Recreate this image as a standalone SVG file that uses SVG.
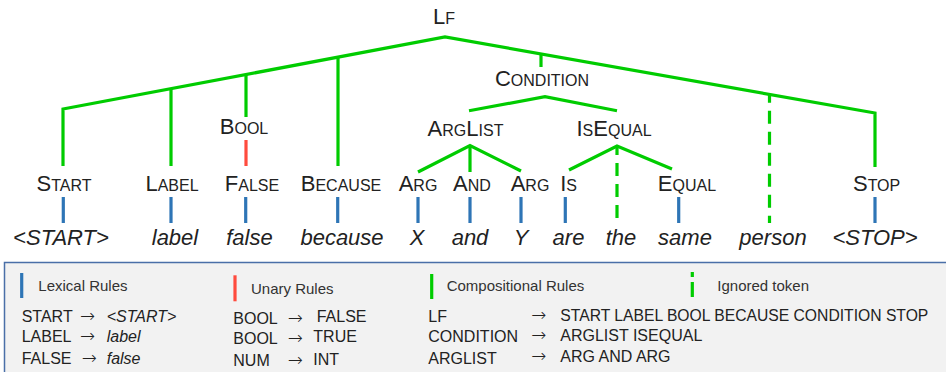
<svg xmlns="http://www.w3.org/2000/svg" width="946" height="372" viewBox="0 0 946 372">
<style>
text{font-family:"Liberation Sans",Arial,sans-serif;fill:#222}
.nt{text-anchor:middle}
.b{font-size:22px}
.s{font-size:16px}
.w{font-size:22px;font-style:italic;text-anchor:middle}
.g{fill:none;stroke:#00cc00;stroke-width:3.2;stroke-linejoin:miter}
.gd{fill:none;stroke:#00cc00;stroke-width:3.2;stroke-dasharray:13 8}
.bl{stroke:#2e75b6;stroke-width:3.2}
.rd{stroke:#ff4b3e;stroke-width:3.2}
.lg{font-size:15px;fill:#333}
.r{font-size:16px;fill:#222}
.ri{font-size:16px;font-style:italic;fill:#222}
.ar{font-family:"DejaVu Sans",sans-serif;font-weight:200;font-size:18px;fill:#222}
</style>
<rect width="946" height="372" fill="#ffffff"/>
<g id="connectors">
<polyline class="g" points="63,166 63,109 445,37 875,113 875,167"/>
<line class="g" x1="171" y1="88.6" x2="171" y2="166"/>
<line class="g" x1="246" y1="74.6" x2="246" y2="117"/>
<line class="rd" x1="246" y1="140" x2="246" y2="166"/>
<line class="g" x1="338" y1="57.3" x2="338" y2="166"/>
<line class="g" x1="541" y1="54" x2="541" y2="67"/>
<line class="gd" x1="769.5" y1="95" x2="769.5" y2="223" stroke-dashoffset="5.3"/>
<polyline class="g" points="469,110.7 545,96.7 617,110.7"/>
<polyline class="g" points="418,172 470,145.5 521,171"/>
<line class="g" x1="470" y1="145.5" x2="470" y2="172"/>
<polyline class="g" points="569,170 617,146 672,169"/>
<line class="gd" x1="617" y1="146" x2="617" y2="223" stroke-dashoffset="4"/>
<line class="bl" x1="63.3" y1="197" x2="63.3" y2="223"/>
<line class="bl" x1="171" y1="197" x2="171" y2="223"/>
<line class="bl" x1="245.7" y1="197" x2="245.7" y2="223"/>
<line class="bl" x1="337.7" y1="197" x2="337.7" y2="223"/>
<line class="bl" x1="418" y1="197" x2="418" y2="223"/>
<line class="bl" x1="470" y1="197" x2="470" y2="223"/>
<line class="bl" x1="521" y1="197" x2="521" y2="223"/>
<line class="bl" x1="565.3" y1="197" x2="565.3" y2="223"/>
<line class="bl" x1="678.7" y1="197" x2="678.7" y2="223"/>
<line class="bl" x1="875" y1="197" x2="875" y2="223"/>
</g>
<g id="n-lf"><text class="nt" x="444" y="24"><tspan class="b">L</tspan><tspan class="s">F</tspan></text></g>
<g id="n-condition"><text class="nt" x="542" y="86"><tspan class="b">C</tspan><tspan class="s">ONDITION</tspan></text></g>
<g id="n-bool"><text class="nt" x="244" y="134"><tspan class="b">B</tspan><tspan class="s">OOL</tspan></text></g>
<g id="n-arglist"><text class="nt" x="465.5" y="136"><tspan class="b">A</tspan><tspan class="s">RG</tspan><tspan class="b">L</tspan><tspan class="s">IST</tspan></text></g>
<g id="n-isequal"><text class="nt" x="614" y="136"><tspan class="b">I</tspan><tspan class="s">S</tspan><tspan class="b">E</tspan><tspan class="s">QUAL</tspan></text></g>
<g id="n-start"><text class="nt" x="64" y="191"><tspan class="b">S</tspan><tspan class="s">TART</tspan></text></g>
<g id="n-label"><text class="nt" x="172" y="191"><tspan class="b">L</tspan><tspan class="s">ABEL</tspan></text></g>
<g id="n-false"><text class="nt" x="252" y="191"><tspan class="b">F</tspan><tspan class="s">ALSE</tspan></text></g>
<g id="n-because"><text class="nt" x="341" y="191"><tspan class="b">B</tspan><tspan class="s">ECAUSE</tspan></text></g>
<g id="n-arg1"><text class="nt" x="418" y="191"><tspan class="b">A</tspan><tspan class="s">RG</tspan></text></g>
<g id="n-and"><text class="nt" x="472" y="191"><tspan class="b">A</tspan><tspan class="s">ND</tspan></text></g>
<g id="n-arg2"><text class="nt" x="530" y="191"><tspan class="b">A</tspan><tspan class="s">RG</tspan></text></g>
<g id="n-is"><text class="nt" x="568.6" y="191"><tspan class="b">I</tspan><tspan class="s">S</tspan></text></g>
<g id="n-equal"><text class="nt" x="687" y="191"><tspan class="b">E</tspan><tspan class="s">QUAL</tspan></text></g>
<g id="n-stop"><text class="nt" x="876.6" y="191"><tspan class="b">S</tspan><tspan class="s">TOP</tspan></text></g>
<g id="w-start"><text class="w" x="61" y="245">&lt;START&gt;</text></g>
<g id="w-label"><text class="w" x="175" y="245">label</text></g>
<g id="w-false"><text class="w" x="249.5" y="245">false</text></g>
<g id="w-because"><text class="w" x="342" y="245">because</text></g>
<g id="w-x"><text class="w" x="417" y="245">X</text></g>
<g id="w-and"><text class="w" x="470" y="245">and</text></g>
<g id="w-y"><text class="w" x="521" y="245">Y</text></g>
<g id="w-are"><text class="w" x="568.5" y="245">are</text></g>
<g id="w-the"><text class="w" x="621" y="245">the</text></g>
<g id="w-same"><text class="w" x="685" y="245">same</text></g>
<g id="w-person"><text class="w" x="773" y="245">person</text></g>
<g id="w-stop"><text class="w" x="875" y="245">&lt;STOP&gt;</text></g>
<g id="legend">
<rect x="4.5" y="262.5" width="950" height="120" fill="#f2f2f2" stroke="#4a6fa8" stroke-width="1.5"/>
<line class="bl" x1="21.7" y1="273" x2="21.7" y2="298"/>
<text class="lg" x="38.3" y="291.3">Lexical Rules</text>
<line class="rd" x1="235" y1="275.3" x2="235" y2="301.3"/>
<text class="lg" x="251" y="294">Unary Rules</text>
<line class="g" x1="431.7" y1="274" x2="431.7" y2="299"/>
<text class="lg" x="446.7" y="291.3">Compositional Rules</text>
<line class="g" x1="692.3" y1="272" x2="692.3" y2="277"/>
<line class="g" x1="692.3" y1="282" x2="692.3" y2="297"/>
<text class="lg" x="717.3" y="291">Ignored token</text>
<text class="r" x="21.7" y="322.3">START</text><text class="ar" x="80" y="322.3">→</text><text class="ri" x="106.7" y="322.3">&lt;START&gt;</text>
<text class="r" x="21.7" y="342.3">LABEL</text><text class="ar" x="80" y="342.3">→</text><text class="ri" x="106.7" y="342.3">label</text>
<text class="r" x="21.7" y="364">FALSE</text><text class="ar" x="81.7" y="364">→</text><text class="ri" x="106.7" y="364">false</text>
<text class="r" x="233.3" y="323.7">BOOL</text><text class="ar" x="287.7" y="323.7">→</text><text class="r" x="316.7" y="322.3">FALSE</text>
<text class="r" x="233.3" y="344">BOOL</text><text class="ar" x="287.7" y="344">→</text><text class="r" x="313.3" y="342.3">TRUE</text>
<text class="r" x="233.3" y="366.3">NUM</text><text class="ar" x="287.7" y="366.3">→</text><text class="r" x="313.3" y="364.7">INT</text>
<text class="r" x="428.3" y="322">LF</text><text class="ar" x="531.3" y="321.3">→</text><text class="r" x="560.3" y="321.3" textLength="368" lengthAdjust="spacingAndGlyphs">START LABEL BOOL BECAUSE CONDITION STOP</text>
<text class="r" x="428.3" y="342">CONDITION</text><text class="ar" x="531.3" y="341.3">→</text><text class="r" x="560.3" y="341.3">ARGLIST ISEQUAL</text>
<text class="r" x="428.3" y="364">ARGLIST</text><text class="ar" x="531.3" y="362">→</text><text class="r" x="560.3" y="362">ARG AND ARG</text>
</g>
</svg>
